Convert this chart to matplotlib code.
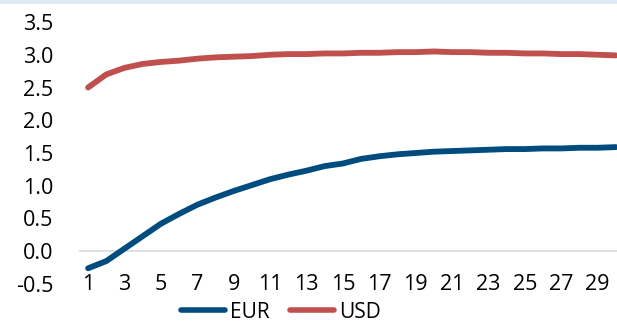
import matplotlib
matplotlib.use("Agg")
import matplotlib.pyplot as plt
from matplotlib.patches import Rectangle

plt.rcParams['font.family'] = ['Open Sans', 'DejaVu Sans']

maturity = list(range(1, 31))
eur = [-0.26, -0.15, 0.04, 0.23, 0.42, 0.57, 0.71, 0.82, 0.92, 1.01,
       1.10, 1.17, 1.23, 1.30, 1.34, 1.41, 1.45, 1.48, 1.50, 1.52,
       1.53, 1.54, 1.55, 1.56, 1.56, 1.57, 1.57, 1.58, 1.58, 1.59]
usd = [2.50, 2.70, 2.80, 2.86, 2.89, 2.91, 2.94, 2.96, 2.97, 2.98,
       3.00, 3.01, 3.01, 3.02, 3.02, 3.03, 3.03, 3.04, 3.04, 3.05,
       3.04, 3.04, 3.03, 3.03, 3.02, 3.02, 3.01, 3.01, 3.00, 2.99]
yticks = [-0.5, 0.0, 0.5, 1.0, 1.5, 2.0, 2.5, 3.0, 3.5]
xticks = list(range(1, 31, 2))

W, H = 617, 324
fig = plt.figure(figsize=(W / 100, H / 100), dpi=100)
fig.patches.append(Rectangle((0, 1 - 4 / H), 1, 4 / H, transform=fig.transFigure,
                             facecolor='#DCEBF3', edgecolor='none', zorder=0))

left, right, top, bottom = 79, 625, 22, 284
ax = fig.add_axes([left / W, (H - bottom) / H, (right - left) / W, (bottom - top) / H])
ax.set_facecolor('none')

ax.axhline(0, color='#D9D9D9', lw=1.2, zorder=1)
ax.plot(maturity, eur, color='#004C7F', lw=4.2, solid_capstyle='round', label='EUR', zorder=3)
ax.plot(maturity, usd, color='#C0504D', lw=4.2, solid_capstyle='round', label='USD', zorder=3)

ax.set_xlim(0.5, 30.5)
ax.set_ylim(-0.5, 3.5)
ax.set_yticks(yticks)
ax.set_yticklabels([f"{v:.1f}" for v in yticks])
ax.set_xticks(xticks)
ax.set_xticklabels([str(v) for v in xticks])
for s in ax.spines.values():
    s.set_visible(False)
ax.tick_params(axis='both', length=0, labelsize=15.5, colors='black')
ax.tick_params(axis='y', pad=18.5)
ax.tick_params(axis='x', pad=-7.5)

leg = fig.legend(loc='center', bbox_to_anchor=(281 / W, 1 - 312 / H), ncol=2,
                 frameon=False, fontsize=15, handlelength=2.1, handletextpad=0.25,
                 columnspacing=1.0, borderpad=0, borderaxespad=0)
for line in leg.get_lines():
    line.set_linewidth(4.0)

fig.savefig('out.png', dpi=100)
